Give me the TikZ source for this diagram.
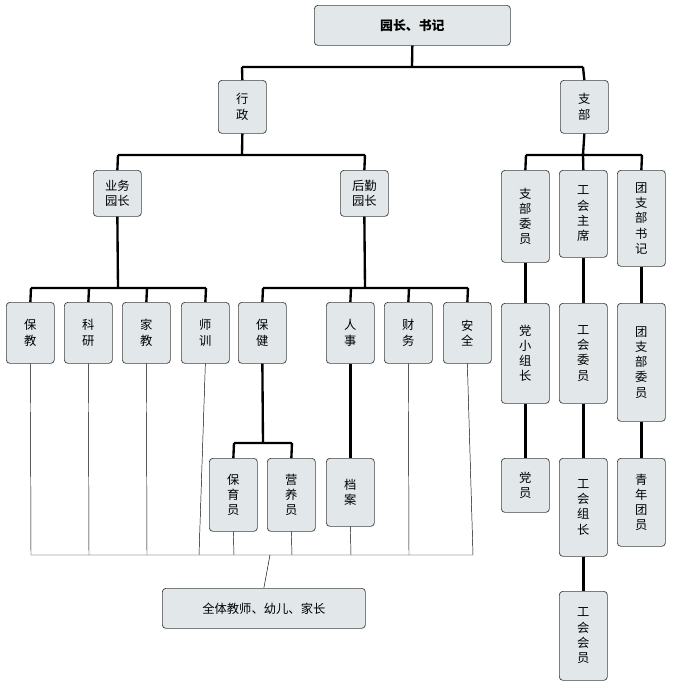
\documentclass[tikz,border=0pt]{standalone}
\usepackage{fontspec}
\setmainfont{Noto Sans CJK SC}
\begin{document}
\begin{tikzpicture}[x=0.03cm,y=-0.03cm,
  b/.style={draw=black!75,fill=cyan!25!blue!8!white,fill=cyan!18!gray!22,rounded corners=3pt,line width=0.6pt,font=\fontsize{10.5}{13}\selectfont,inner sep=0pt,align=center},
  thk/.style={line width=2pt},
  thn/.style={line width=0.4pt}]
\useasboundingbox (0,0) rectangle (676,686);
\newcommand\bx[6]{\node[b,minimum width=#3*0.03cm-0.03cm,minimum height=#5*0.03cm-#4*0.03cm,anchor=north west] (#1) at (#2,#4) {#6};}
\newcommand\bw[5]{\node[b,minimum width=48*0.03cm,minimum height=#4*0.03cm-#3*0.03cm,anchor=north west] (#1) at (#2,#3) {#5};}
\node[b,minimum width=196*0.03cm,minimum height=40*0.03cm,anchor=north west,font=\bfseries\fontsize{11}{13}\selectfont] (top) at (314,5) {园长、书记};
\bw{xz}{218}{80}{133}{行\\政}
\bw{zb}{560}{80}{133}{支\\部}
\bw{yw}{93}{170}{216}{业务\\园长}
\bw{hq}{340}{170}{216}{后勤\\园长}
\bw{zbwy}{501}{170}{262}{支\\部\\委\\员}
\bw{ghzx}{559}{170}{257}{工\\会\\主\\席}
\bw{tzsj}{617}{170}{266}{团\\支\\部\\书\\记}
\bw{bj}{6}{302}{363}{保\\教}
\bw{ky}{64}{302}{363}{科\\研}
\bw{jj}{122}{302}{363}{家\\教}
\bw{sx}{181}{302}{363}{师\\训}
\bw{bjk}{238}{302}{363}{保\\健}
\bw{rs}{326}{302}{363}{人\\事}
\bw{cw}{384}{302}{363}{财\\务}
\bw{aq}{443}{302}{363}{安\\全}
\bw{dxzz}{501}{303}{403}{党\\小\\组\\长}
\bw{ghwy}{559}{303}{403}{工\\会\\委\\员}
\bw{tzbwy}{617}{303}{421}{团\\支\\部\\委\\员}
\bw{dy}{501}{458}{512}{党\\员}
\bw{ghzz}{559}{458}{556}{工\\会\\组\\长}
\bw{qnty}{617}{458}{546}{青\\年\\团\\员}
\bw{byy}{209}{458}{531}{保\\育\\员}
\bw{yyy}{267}{458}{531}{营\\养\\员}
\bw{da}{326}{458}{526}{档\\案}
\bw{ghhy}{559}{591}{680}{工\\会\\会\\员}
\node[b,minimum width=203*0.03cm,minimum height=40*0.03cm,anchor=north west] (all) at (162,588) {全体教师、幼儿、家长};
% thick
\draw[thk] (top.south) -- (412,67) (242,67) -- (583,67);
\draw[thk] (242,67) -- (xz.north) (583,67) -- (zb.north);
\draw[thk] (xz.south) -- (242,155) (118,155) -- (365,155) (118,155) -- (yw.north) (365,155) -- (hq.north);
\draw[thk] (zb.south) -- (583,155) (526,155) -- (642,155) (526,155) -- (zbwy.north) (642,155) -- (tzsj.north) (583,155) -- (ghzx.north);
\draw[thk] (yw.south) -- (118,288) (31,288) -- (206,288);
\foreach \n/\x in {bj/31,ky/89,jj/147,sx/206} \draw[thk] (\x,288) -- (\n.north);
\draw[thk] (hq.south) -- (365,288) (263,288) -- (468,288);
\foreach \n/\x in {bjk/263,rs/351,cw/409,aq/468} \draw[thk] (\x,288) -- (\n.north);
\draw[thk] (bjk.south) -- (263,443) (234,443) -- (292,443) (234,443) -- (byy.north) (292,443) -- (yyy.north);
\draw[thk] (rs.south) -- (da.north);
\draw[thk] (zbwy.south) -- (dxzz.north) (dxzz.south) -- (dy.north);
\draw[thk] (ghzx.south) -- (ghwy.north) (ghwy.south) -- (ghzz.north) (ghzz.south) -- (ghhy.north);
\draw[thk] (tzsj.south) -- (tzbwy.north) (tzbwy.south) -- (qnty.north);
% thin
\draw[thn] (31,555) -- (473,555) (270,555) -- (all.north);
\draw[thn] (bj.south) -- (31,555) (ky.south) -- (89,555) (jj.south) -- (147,555) (sx.south) -- (199,555)
 (byy.south) -- (234,555) (yyy.south) -- (292,555) (da.south) -- (351,555) (cw.south) -- (409,555) (aq.south) -- (473,555);
\end{tikzpicture}
\end{document}
